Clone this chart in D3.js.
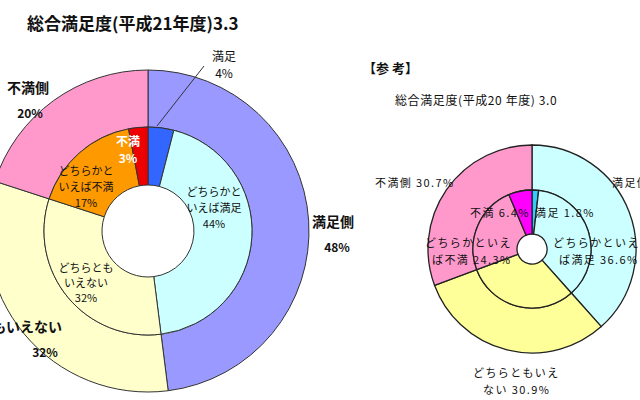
<!DOCTYPE html>
<html>
<head>
<meta charset="utf-8">
<script src="https://cdn.jsdelivr.net/npm/d3@7"></script>
<style>
  html, body { margin: 0; padding: 0; background: #fff; }
  svg { display: block; font-family: "Noto Sans CJK JP", "Noto Sans", sans-serif; }
</style>
</head>
<body>
<div id="chart"></div>
<script>
// H21 (left) data
const h21OuterCats = ['満足側', 'どちらともいえない', '不満側']
const h21OuterVals = [48, 32, 20]
const h21InnerCats = ['満足', 'どちらかといえば満足', 'どちらともいえない', 'どちらかといえば不満', '不満']
const h21InnerVals = [4, 44, 32, 17, 3]

// H20 (right, reference) data
const h20OuterCats = ['満足側', 'どちらともいえない', '不満側']
const h20OuterVals = [38.4, 30.9, 30.7]
const h20InnerCats = ['満足', 'どちらかといえば満足', 'どちらともいえない', 'どちらかといえば不満', '不満']
const h20InnerVals = [1.8, 36.6, 30.9, 24.3, 6.4]

const W = 640, H = 400

const svg = d3.select('#chart').append('svg')
  .attr('width', W).attr('height', H)

const pie = d3.pie().sort(null).value(d => d.v)

function ring(g, cats, vals, colors, r0, r1, stroke, sw) {
  const data = cats.map((c, i) => ({ c, v: vals[i] }))
  const arc = d3.arc().innerRadius(r0).outerRadius(r1)
  g.selectAll(null)
    .data(pie(data))
    .join('path')
    .attr('d', arc)
    .attr('fill', (d, i) => colors[i])
    .attr('stroke', stroke)
    .attr('stroke-width', sw)
}

function label(g, x, y, lines, opts = {}) {
  const t = g.append('text')
    .attr('x', x).attr('y', y)
    .attr('text-anchor', opts.anchor || 'middle')
    .attr('font-size', opts.size || 11)
    .attr('font-weight', opts.weight || 'normal')
    .attr('fill', opts.fill || '#111')
    .attr('letter-spacing', opts.ls || 0)
  lines.forEach((l, i) => {
    t.append('tspan').attr('x', x).attr('dy', i === 0 ? 0 : (opts.lh || 16)).text(l)
  })
}

// ---- Left chart: 平成21年度
svg.append('text')
  .attr('x', 27).attr('y', 30)
  .attr('font-size', 17).attr('font-weight', 'bold')
  .attr('fill', '#111')
  .text('総合満足度(平成21年度)3.3')

const gL = svg.append('g').attr('transform', 'translate(148,231)')
ring(gL, h21OuterCats, h21OuterVals, ['#9999ff', '#ffffcc', '#ff99cc'], 104, 161, '#333', 1)
ring(gL, h21InnerCats, h21InnerVals, ['#3366ff', '#ccffff', '#ffffcc', '#ff9900', '#ee0000'], 46, 104, '#333', 1)

// leader line for 満足 4%
svg.append('line')
  .attr('x1', 157).attr('y1', 126).attr('x2', 204).attr('y2', 66)
  .attr('stroke', '#333').attr('stroke-width', 1)
label(svg, 224, 61, ['満足', '4%'], { size: 12, lh: 17 })

// outer labels
label(svg, 28, 93, ['不満側'], { size: 14, weight: 'bold' })
label(svg, 30, 118, ['20%'], { size: 12, weight: 'bold' })
label(svg, 333, 227, ['満足側'], { size: 14, weight: 'bold' })
label(svg, 337, 252, ['48%'], { size: 12, weight: 'bold' })
label(svg, 62, 332, ['どちらともいえない'], { size: 14, weight: 'bold', anchor: 'end' })
label(svg, 45, 357, ['32%'], { size: 12, weight: 'bold' })

// inner labels
label(svg, 128, 146, ['不満', '3%'], { size: 12, fill: '#fff', lh: 17, weight: 'bold' })
label(svg, 86, 175, ['どちらかと', 'いえば不満', '17%'], { size: 11, lh: 16 })
label(svg, 214, 196, ['どちらかと', 'いえば満足', '44%'], { size: 11, lh: 16 })
label(svg, 86, 272, ['どちらとも', 'いえない', '32%'], { size: 11, lh: 15 })

// ---- Right chart: 参考 平成20年度
svg.append('text')
  .attr('x', 363).attr('y', 73)
  .attr('font-size', 13).attr('font-weight', 'bold')
  .attr('fill', '#111')
  .text('【参 考】')
label(svg, 395, 105, ['総合満足度(平成20 年度) 3.0'], { size: 12, anchor: 'start', ls: 0.6 })

const gR = svg.append('g').attr('transform', 'translate(532,249)')
ring(gR, h20OuterCats, h20OuterVals, ['#ccffff', '#ffff99', '#ff99cc'], 59, 104, '#222', 1.3)
ring(gR, h20InnerCats, h20InnerVals, ['#33ccff', '#ccffff', '#ffff99', '#ff99cc', '#ff00ff'], 15, 59, '#222', 1.3)

const sm = { size: 11, anchor: 'start', ls: 1.4 }
label(svg, 375, 187, ['不満側 30.7%'], sm)
label(svg, 612, 187, ['満足側 38.4%'], sm)
label(svg, 470, 217, ['不満 6.4%'], sm)
label(svg, 535, 217, ['満足 1.8%'], sm)
label(svg, 425, 247, ['どちらかといえ'], sm)
label(svg, 432, 264, ['ば不満 24.3%'], sm)
label(svg, 553, 247, ['どちらかといえ'], sm)
label(svg, 559, 264, ['ば満足 36.6%'], sm)
label(svg, 473, 377, ['どちらともいえ'], sm)
label(svg, 483, 394, ['ない 30.9%'], sm)
</script>
</body>
</html>
